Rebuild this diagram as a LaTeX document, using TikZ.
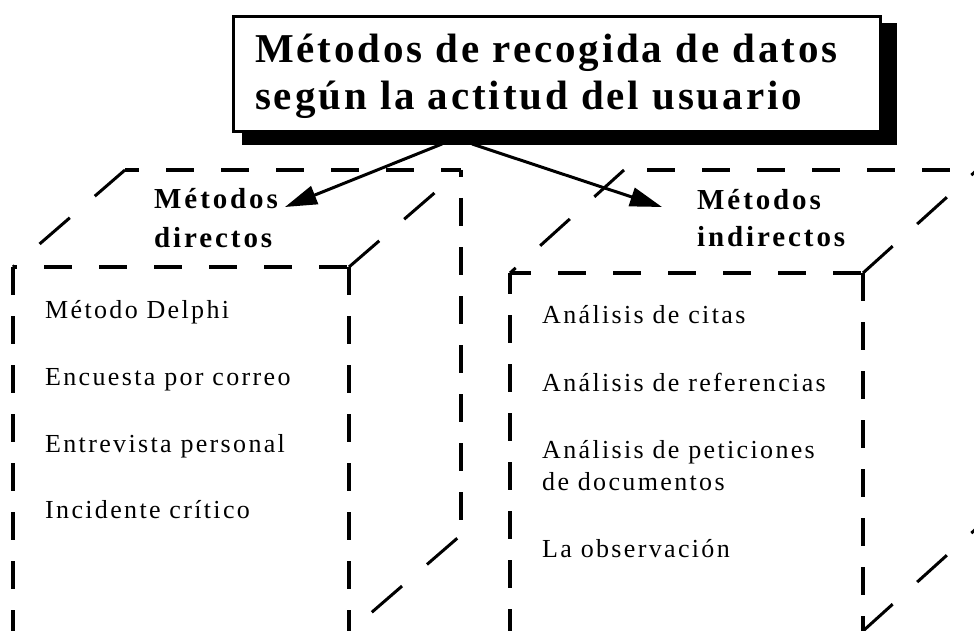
\documentclass[tikz,border=0pt]{standalone}
\usepackage{fontspec}
\usetikzlibrary{arrows.meta}
\newfontfamily\bodyfont[LetterSpace=9]{Liberation Serif}
\newfontfamily\subfont[LetterSpace=10]{Liberation Serif}
\newfontfamily\titlefont[LetterSpace=7]{Liberation Serif}
\tikzset{
  edge/.style={line width=4pt},
  hdash/.style={edge, dash pattern=on 28pt off 27pt},
  vdash/.style={edge, dash pattern=on 28pt off 21pt},
  ddash/.style={line width=3pt, dash pattern=on 40pt off 33pt},
  itemtext/.style={anchor=base west, inner sep=0pt, font=\bodyfont\fontsize{26}{30}\selectfont},
  headtext/.style={anchor=base west, inner sep=0pt, font=\subfont\bfseries\fontsize{29}{34}\selectfont},
  titletext/.style={anchor=base west, inner sep=0pt, font=\titlefont\bfseries\fontsize{41}{49}\selectfont},
  arrowline/.style={line width=3pt, -{Triangle[length=32pt,width=19pt]}},
}
\begin{document}
\begin{tikzpicture}[x=1pt,y=-1pt]
\useasboundingbox (0,0) rectangle (974,631);
\clip (0,0) rectangle (974,631);
% left box
\draw[hdash, dash phase=24pt] (13,267) -- (349,267);
\draw[vdash] (13,267) -- (13,645);
\draw[vdash] (349,267) -- (349,645);
\draw[hdash, dash phase=14pt] (125,170) -- (461,170);
\draw[vdash, dash phase=21pt] (461,170) -- (461,535);
\draw[ddash] (125,170) -- (13,267);
\draw[ddash] (349,267) -- (461,170);
\draw[ddash, dash phase=68pt] (461,535) -- (349,632);
% right box
\draw[hdash, dash phase=7pt] (510,273) -- (863,273);
\draw[vdash, dash phase=7pt] (510,273) -- (510,645);
\draw[vdash] (863,273) -- (863,631);
\draw[hdash, dash phase=32pt] (624,170) -- (960,170);
\draw[ddash] (624,170) -- (510,273);
\draw[ddash] (863,273) -- (977,170);
\draw[ddash] (863,631) -- (977,528);
% title
\node[fill=black, minimum width=655pt, minimum height=122pt, inner sep=0pt] (shadow) at (569.5,84) {};
\node[draw, fill=white, line width=3pt, minimum width=647pt, minimum height=115pt, inner sep=0pt] (title) at (557,74) {};
\node[titletext] (t1) at (255,63) {Métodos de recogida de datos};
\node[titletext] (t2) at (255,110) {según la actitud del usuario};
% headings
\node[headtext] (dh1) at (154,208) {Métodos};
\node[headtext] (dh2) at (154,247) {directos};
\node[headtext] (ih1) at (697,209) {Métodos};
\node[headtext] (ih2) at (697,246) {indirectos};
% items
\node[itemtext] (d1) at (45,318) {Método Delphi};
\node[itemtext] (d2) at (45,385) {Encuesta por correo};
\node[itemtext] (d3) at (45,452) {Entrevista personal};
\node[itemtext] (d4) at (45,518) {Incidente crítico};
\node[itemtext] (i1) at (542,323) {Análisis de citas};
\node[itemtext] (i2) at (542,391) {Análisis de referencias};
\node[itemtext] (i3) at (542,458) {Análisis de peticiones};
\node[itemtext] (i3b) at (542,490) {de documentos};
\node[itemtext] (i4) at (542,557) {La observación};
% arrows
\coordinate (ls) at (442,144);
\coordinate (rs) at (472,144);
\coordinate (lt) at (285,207);
\coordinate (rt) at (662,207);
\draw[arrowline] (ls) -- (lt);
\draw[arrowline] (rs) -- (rt);
\end{tikzpicture}
\end{document}
